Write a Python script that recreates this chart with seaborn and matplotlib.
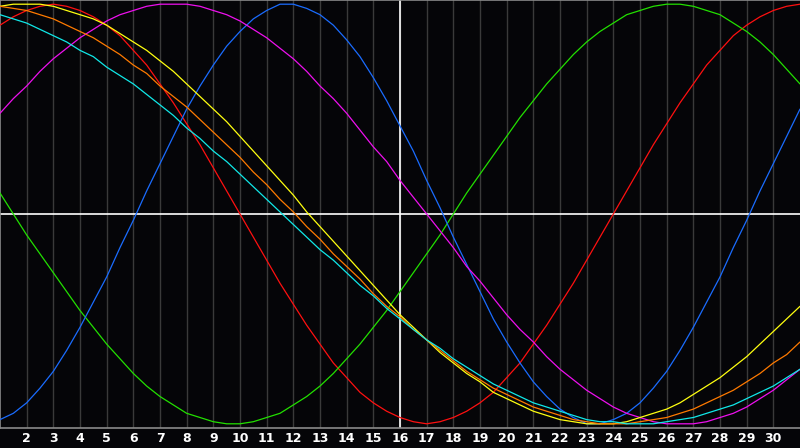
import pandas as pd
import matplotlib
matplotlib.use('Agg')
import matplotlib.pyplot as plt
import seaborn as sns

days = [1, 1.5, 2, 2.5, 3, 3.5, 4, 4.5, 5, 5.5, 6, 6.5, 7, 7.5, 8, 8.5, 9, 9.5, 10, 10.5,
        11, 11.5, 12, 12.5, 13, 13.5, 14, 14.5, 15, 15.5, 16, 16.5, 17, 17.5, 18, 18.5,
        19, 19.5, 20, 20.5, 21, 21.5, 22, 22.5, 23, 23.5, 24, 24.5, 25, 25.5, 26, 26.5,
        27, 27.5, 28, 28.5, 29, 29.5, 30, 30.5, 31]
tick_days = [2, 3, 4, 5, 6, 7, 8, 9, 10, 11, 12, 13, 14, 15, 16, 17, 18, 19, 20, 21,
             22, 23, 24, 25, 26, 27, 28, 29, 30]
tick_labels = [str(d) for d in tick_days]

red = [90, 94, 97, 99, 100, 99, 97, 94, 90, 85, 78, 71, 62, 53, 43, 33, 22, 11, 0, -11,
       -22, -33, -43, -53, -62, -71, -78, -85, -90, -94, -97, -99, -100, -99, -97, -94,
       -90, -85, -78, -71, -62, -53, -43, -33, -22, -11, 0, 11, 22, 33, 43, 53,
       62, 71, 78, 85, 90, 94, 97, 99, 100]
green = [10, 0, -10, -19, -28, -37, -46, -54, -62, -69, -76, -82, -87, -91, -95, -97, -99, -100, -100, -99,
         -97, -95, -91, -87, -82, -76, -69, -62, -54, -46, -37, -28, -19, -10, 0, 10,
         19, 28, 37, 46, 54, 62, 69, 76, 82, 87, 91, 95, 97, 99, 100, 100,
         99, 97, 95, 91, 87, 82, 76, 69, 62]
blue = [-98, -95, -90, -83, -75, -65, -54, -42, -30, -16, -3, 11, 24, 37, 50, 61, 71, 80, 87, 93,
        97, 100, 100, 98, 95, 90, 83, 75, 65, 54, 42, 30, 16, 3, -11, -24,
        -37, -50, -61, -71, -80, -87, -93, -97, -100, -100, -98, -95, -90, -83, -75, -65,
        -54, -42, -30, -16, -3, 11, 24, 37, 50]
magenta = [48, 55, 61, 68, 74, 79, 84, 88, 92, 95, 97, 99, 100, 100, 100, 99, 97, 95, 92, 88,
           84, 79, 74, 68, 61, 55, 48, 40, 32, 25, 16, 8, 0, -8, -16, -25,
           -32, -40, -48, -55, -61, -68, -74, -79, -84, -88, -92, -95, -97, -99, -100, -100,
           -100, -99, -97, -95, -92, -88, -84, -79, -74]
yellow = [99, 100, 100, 100, 99, 97, 95, 93, 90, 86, 82, 78, 73, 68, 62, 56, 50, 44, 37, 30,
          23, 16, 9, 1, -6, -13, -20, -27, -34, -41, -48, -54, -60, -66, -71, -76,
          -80, -85, -88, -91, -94, -96, -98, -99, -100, -100, -100, -99, -97, -95, -93, -90,
          -86, -82, -78, -73, -68, -62, -56, -50, -44]
orange = [99, 98, 97, 95, 93, 90, 87, 84, 80, 76, 71, 67, 61, 56, 51, 45, 39, 33, 27, 20,
          14, 7, 1, -6, -12, -19, -25, -31, -38, -44, -49, -55, -60, -65, -70, -75,
          -79, -83, -86, -89, -92, -94, -96, -98, -99, -100, -100, -100, -99, -98, -97, -95,
          -93, -90, -87, -84, -80, -76, -71, -67, -61]
cyan = [95, 93, 91, 88, 85, 82, 78, 75, 70, 66, 62, 57, 52, 47, 41, 36, 30, 25, 19, 13,
        7, 1, -5, -11, -17, -22, -28, -34, -39, -45, -50, -55, -60, -64, -69, -73,
        -77, -81, -84, -87, -90, -92, -94, -96, -98, -99, -99, -100, -100, -100, -99, -98,
        -97, -95, -93, -91, -88, -85, -82, -78, -74]

series = {'red': red, 'green': green, 'blue': blue, 'magenta': magenta,
          'yellow': yellow, 'orange': orange, 'cyan': cyan}
colors = {'red': '#ff1010', 'green': '#22e000', 'blue': '#1a6cff', 'magenta': '#ee10ee',
          'yellow': '#ffff10', 'orange': '#ff7a00', 'cyan': '#10e8e8'}

rows = []
for name, vals in series.items():
    for d, v in zip(days, vals):
        rows.append({'day': d, 'value': v, 'curve': name})
df = pd.DataFrame(rows)

sns.set_style('dark')
fig = plt.figure(figsize=(8, 4.48), dpi=100, facecolor='#050508')
ax = fig.add_axes([0, 20 / 448, 1, 428 / 448])
ax.set_facecolor('#050508')

ax.set_xticks(tick_days)
ax.set_xticklabels(tick_labels)
ax.grid(True, axis='x', color='#3a3a3a', linewidth=1.0)
ax.grid(False, axis='y')
ax.axvline(16, color='white', linewidth=1.2, zorder=1)
ax.axhline(0, color='white', linewidth=1.2, zorder=1)

sns.lineplot(data=df, x='day', y='value', hue='curve', palette=colors,
             linewidth=0.9, legend=False, ax=ax, zorder=3)

ax.set_xlim(1, 31)
ax.set_ylim(-102, 102)
ax.set_yticks([])
ax.set_xlabel('')
ax.set_ylabel('')
ax.tick_params(axis='x', length=0, pad=3, colors='white', labelsize=9)
for lbl in ax.get_xticklabels():
    lbl.set_fontweight('bold')
    lbl.set_fontfamily('DejaVu Sans')

for side in ['top', 'left', 'bottom']:
    ax.spines[side].set_visible(True)
    ax.spines[side].set_color('#8a8a8a')
    ax.spines[side].set_linewidth(1.2)
ax.spines['right'].set_visible(False)

fig.savefig('out.png', dpi=100, facecolor=fig.get_facecolor())
